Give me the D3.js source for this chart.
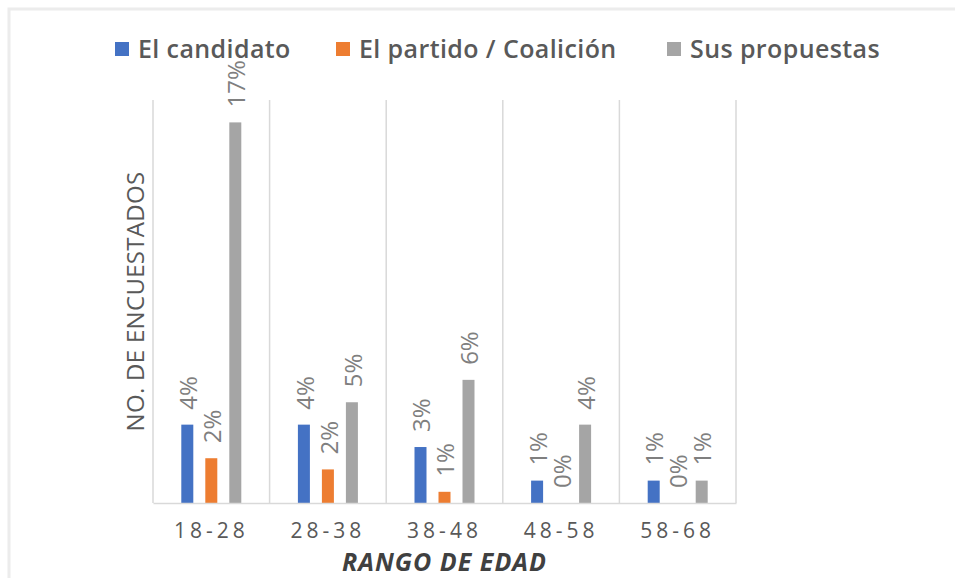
<!DOCTYPE html>
<html>
<head>
<meta charset="utf-8">
<script src="https://cdn.jsdelivr.net/npm/d3@7"></script>
<style>
  body { margin: 0; background: #fff; }
  text { font-family: "Open Sans", "Noto Sans", sans-serif; }
</style>
</head>
<body>
<div id="chart"></div>
<script>
// data
const age_ranges = ["18-28", "28-38", "38-48", "48-58", "58-68"]
const series_names = ["El candidato", "El partido / Coalición", "Sus propuestas"]
const candidato = [3.5, 3.5, 2.5, 1, 1]
const partido = [2, 1.5, 0.5, 0, 0]
const propuestas = [17, 4.5, 5.5, 3.5, 1]
const series_colours = ["#4472C4", "#ED7D31", "#A5A5A5"]

const all_values = [candidato, partido, propuestas]

var width = 955, height = 578
var margin = {top: 100, left: 153, right: 219, bottom: 75}
var plot_w = width - margin.left - margin.right
var plot_h = height - margin.top - margin.bottom

var svg = d3.select("#chart")
  .append("svg")
    .attr("width", width)
    .attr("height", height)

// faint frame around the chart
svg.append("rect")
  .attr("x", 9).attr("y", 9)
  .attr("width", 1200).attr("height", 1200)
  .attr("fill", "none")
  .attr("stroke", "#ececec")
  .attr("stroke-width", 3)

var g = svg.append("g")
  .attr("transform", "translate(" + margin.left + "," + margin.top + ")")

var x0 = d3.scaleBand().domain(age_ranges).range([0, plot_w]).padding(0)
var x1 = d3.scaleBand().domain(series_names)
  .range([x0.bandwidth()/2 - 36, x0.bandwidth()/2 + 36])
var y = d3.scaleLinear().domain([0, 18]).range([plot_h, 0])
var bar_w = 12

// vertical gridlines at category boundaries
var bounds = age_ranges.map(function(d){ return x0(d) }).concat([plot_w])
g.selectAll("line.grid")
  .data(bounds)
  .enter()
  .append("line")
    .attr("class", "grid")
    .attr("x1", function(d){ return d }).attr("x2", function(d){ return d })
    .attr("y1", 0).attr("y2", plot_h)
    .attr("stroke", "#d9d9d9")
    .attr("stroke-width", 1.5)

// bars
var rows = []
age_ranges.forEach(function(a, i) {
  series_names.forEach(function(s, j) {
    rows.push({age: a, series: s, value: all_values[j][i], colour: series_colours[j]})
  })
})

g.selectAll("rect.bar")
  .data(rows)
  .enter()
  .append("rect")
    .attr("class", "bar")
    .attr("x", function(d){ return x0(d.age) + x1(d.series) + (x1.bandwidth() - bar_w)/2 })
    .attr("y", function(d){ return y(d.value) })
    .attr("width", bar_w)
    .attr("height", function(d){ return plot_h - y(d.value) })
    .attr("fill", function(d){ return d.colour })

// baseline
g.append("g")
  .attr("transform", "translate(0," + plot_h + ")")
  .call(d3.axisBottom(x0).tickSize(0).tickPadding(20))
  .call(function(ax){
    ax.select(".domain").attr("stroke", "#d9d9d9").attr("stroke-width", 1.5)
    ax.selectAll("text")
      .attr("fill", "#595959")
      .style("font-size", "21px")
      .style("letter-spacing", "4px")
  })

// rotated value labels
g.selectAll("text.lbl")
  .data(rows)
  .enter()
  .append("text")
    .attr("class", "lbl")
    .attr("transform", function(d){
      var cx = x0(d.age) + x1(d.series) + x1.bandwidth()/2
      return "translate(" + (cx + 1) + "," + (y(d.value) - 15) + ") rotate(-90)"
    })
    .attr("dy", "0.36em")
    .attr("fill", "#7f7f7f")
    .style("font-size", "24px")
    .text(function(d){ return Math.round(d.value) + "%" })

// axis titles
svg.append("text")
  .attr("x", margin.left + plot_w/2)
  .attr("y", 571)
  .attr("text-anchor", "middle")
  .attr("fill", "#404040")
  .style("font-size", "25px")
  .style("font-weight", "700")
  .style("font-style", "italic")
  .style("letter-spacing", "1px")
  .text("RANGO DE EDAD")

svg.append("text")
  .attr("transform", "translate(135," + (margin.top + plot_h/2) + ") rotate(-90)")
  .attr("text-anchor", "middle")
  .attr("dy", "0.36em")
  .attr("fill", "#595959")
  .style("font-size", "24px")
  .style("letter-spacing", "0.3px")
  .text("NO. DE ENCUESTADOS")

// legend
var legend_x = [115, 336, 667]
var legend = svg.selectAll("g.leg")
  .data(series_names)
  .enter()
  .append("g")
    .attr("class", "leg")
    .attr("transform", function(d, i){ return "translate(" + legend_x[i] + ",49)" })
legend.append("rect")
  .attr("x", 0).attr("y", -7)
  .attr("width", 14).attr("height", 14)
  .attr("fill", function(d, i){ return series_colours[i] })
legend.append("text")
  .attr("x", 23)
  .attr("dy", "0.36em")
  .attr("fill", "#595959")
  .style("font-size", "25px")
  .style("font-weight", "600")
  .style("letter-spacing", "0.4px")
  .text(function(d){ return d })
</script>
</body>
</html>
